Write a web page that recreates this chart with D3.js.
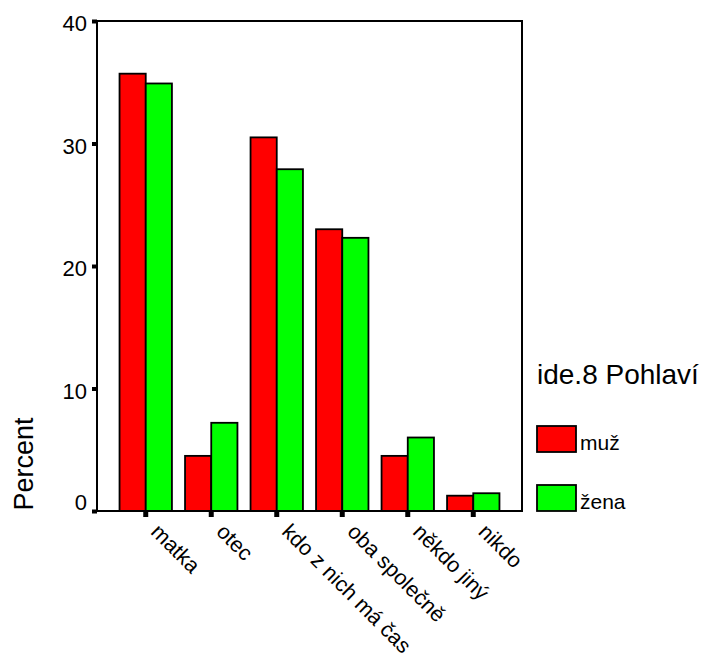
<!DOCTYPE html>
<html>
<head>
<meta charset="utf-8">
<script src="https://cdn.jsdelivr.net/npm/d3@7"></script>
<style>
  html, body { margin: 0; padding: 0; background: #fff; }
  svg { display: block; }
  text { font-family: Arial, "Liberation Sans", sans-serif; fill: #000; }
</style>
</head>
<body>
<svg id="chart" width="706" height="659"></svg>
<script>
const categories = ["matka", "otec", "kdo z nich má čas", "oba společně", "někdo jiný", "nikdo"];
const seriesNames = ["muž", "žena"];
const muz = [35.7, 4.5, 30.5, 23.0, 4.5, 1.25];
const zena = [34.9, 7.2, 27.9, 22.3, 6.0, 1.45];
const yTicks = [0, 10, 20, 30, 40];
const colors = ["#ff0000", "#00ff00"];
const legendTitle = "ide.8 Pohlaví";
const yTitle = "Percent";

const svg = d3.select("#chart");
const L = 97, R = 522, T = 21, B = 511;

const x0 = d3.scaleBand().domain(categories).range([L, R]).paddingInner(0.2).paddingOuter(0.344);
const x1 = d3.scaleBand().domain(seriesNames).range([0, x0.bandwidth()]);
const y = d3.scaleLinear().domain([0, 40]).range([B, T]);
const color = d3.scaleOrdinal().domain(seriesNames).range(colors);

const rows = categories.map((c, i) => ({ cat: c, vals: [
  { s: seriesNames[0], v: muz[i] },
  { s: seriesNames[1], v: zena[i] }
]}));

// bars
const g = svg.append("g");
g.selectAll("g.grp").data(rows).join("g")
  .attr("class", "grp")
  .attr("transform", d => `translate(${x0(d.cat)},0)`)
  .selectAll("rect").data(d => d.vals).join("rect")
  .attr("x", d => x1(d.s))
  .attr("y", d => y(d.v))
  .attr("width", x1.bandwidth())
  .attr("height", d => y(0) - y(d.v))
  .attr("fill", d => color(d.s))
  .attr("stroke", "#000")
  .attr("stroke-width", 1.8);

// frame
svg.append("rect").attr("x", L).attr("y", T).attr("width", R - L).attr("height", B - T)
  .attr("fill", "none").attr("stroke", "#000").attr("stroke-width", 2);

// y axis
const ya = svg.append("g").attr("transform", `translate(${L},0)`)
  .call(d3.axisLeft(y).tickValues(yTicks).tickSize(5).tickPadding(5).tickFormat(d3.format("d")));
ya.select(".domain").remove();
ya.selectAll(".tick line").attr("stroke", "#000").attr("stroke-width", 4);
ya.selectAll(".tick text").attr("font-size", 22).attr("font-family", "Arial, 'Liberation Sans', sans-serif")
  .attr("dy", d => d === 0 ? "-0.05em" : "0.45em");

// x axis
const xa = svg.append("g").attr("transform", `translate(0,${B})`)
  .call(d3.axisBottom(x0).tickSize(6).tickFormat(""));
xa.select(".domain").remove();
xa.selectAll(".tick line").attr("stroke", "#000").attr("stroke-width", 5);
svg.append("g").selectAll("text").data(categories).join("text")
  .attr("transform", d => `translate(${x0(d) + x0.bandwidth() / 2 + 4},533) rotate(45)`)
  .attr("font-size", 21.5)
  .attr("text-anchor", "start")
  .text(d => d);

// y title
svg.append("text")
  .attr("transform", "translate(33,464) rotate(-90)")
  .attr("text-anchor", "middle")
  .attr("font-size", 27)
  .text(yTitle);

// legend
svg.append("text").attr("x", 537).attr("y", 384).attr("font-size", 28).text(legendTitle);
const lg = svg.append("g").selectAll("g").data(seriesNames).join("g")
  .attr("transform", (d, i) => `translate(537,${426 + i * 59})`);
lg.append("rect").attr("width", 39).attr("height", 26)
  .attr("fill", d => color(d)).attr("stroke", "#000").attr("stroke-width", 1.8);
lg.append("text").attr("x", 43).attr("y", 24).attr("font-size", 21).text(d => d);
</script>
</body>
</html>
